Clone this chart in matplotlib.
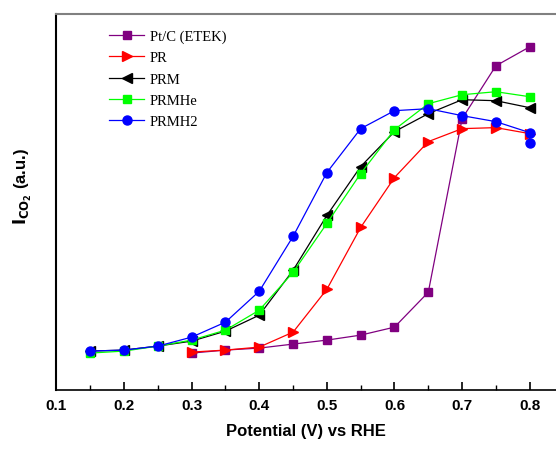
import matplotlib
matplotlib.use("Agg")
import matplotlib.pyplot as plt
from matplotlib.ticker import MultipleLocator, NullLocator

potential = [0.15, 0.2, 0.25, 0.3, 0.35, 0.4, 0.45, 0.5, 0.55, 0.6, 0.65, 0.7, 0.75, 0.8]
potential_pt = [0.3, 0.35, 0.4, 0.45, 0.5, 0.55, 0.6, 0.65, 0.7, 0.75, 0.8]
potential_h2 = potential + [0.8]

pt_c = [0.37, 0.40, 0.42, 0.46, 0.50, 0.55, 0.63, 0.98, 2.72, 3.25, 3.44]
pr = [0.38, 0.40, 0.43, 0.58, 1.01, 1.63, 2.13, 2.49, 2.62, 2.63, 2.57]
prm = [0.39, 0.40, 0.44, 0.49, 0.59, 0.75, 1.20, 1.75, 2.24, 2.59, 2.77, 2.91, 2.90, 2.83]
prmhe = [0.37, 0.39, 0.44, 0.50, 0.60, 0.80, 1.18, 1.67, 2.17, 2.61, 2.87, 2.96, 2.99, 2.94]
prmh2 = [0.39, 0.40, 0.44, 0.53, 0.68, 0.99, 1.54, 2.18, 2.62, 2.80, 2.82, 2.75, 2.69, 2.58, 2.48]

labels = ["Pt/C (ETEK)", "PR", "PRM", "PRMHe", "PRMH2"]

fig = plt.figure(figsize=(5.56, 4.52), dpi=100)
ax = fig.add_axes([0.1016, 0.135, 0.8984, 0.832])

ms = 5.8
lw = 0.9
ax.plot(potential_pt, pt_c, color="#800080", marker="s", ms=ms, lw=lw, label=labels[0])
ax.plot(potential_pt, pr, color="#ff0000", marker=">", ms=ms + 1, lw=lw, label=labels[1])
ax.plot(potential, prm, color="#000000", marker="<", ms=ms + 1, lw=lw, label=labels[2])
ax.plot(potential, prmhe, color="#00ff00", marker="s", ms=ms, lw=lw, label=labels[3])
ax.plot(potential_h2, prmh2, color="#0000ff", marker="o", ms=ms + 0.7, lw=lw, label=labels[4])

ax.set_xlim(0.1, 0.1 + (556 - 56.5) / 676.0)
ax.set_ylim(0, 3.77)
ax.xaxis.set_major_locator(MultipleLocator(0.1))
ax.xaxis.set_minor_locator(MultipleLocator(0.05))
ax.yaxis.set_major_locator(NullLocator())
ax.tick_params(axis="x", which="major", direction="in", length=6, width=1.2, labelsize=11, pad=6)
ax.tick_params(axis="x", which="minor", direction="in", length=3.5, width=1.0)
for lab in ax.get_xticklabels():
    lab.set_fontweight("bold")
    lab.set_fontfamily("Liberation Sans")

ax.spines["right"].set_visible(False)
ax.spines["top"].set_color("#808080")
ax.spines["top"].set_linewidth(1.5)
ax.spines["left"].set_linewidth(1.5)
ax.spines["bottom"].set_linewidth(1.2)

ax.set_xlabel("Potential (V) vs RHE", fontsize=12, fontweight="bold", family="Liberation Sans", labelpad=8)
ax.set_ylabel(r"$\mathbf{I_{CO_2}}$ (a.u.)", fontsize=12, fontweight="bold", family="Liberation Sans")
ax.yaxis.set_label_coords(-0.045, 0.543)

leg = ax.legend(loc="upper left", bbox_to_anchor=(0.186, 0.945), bbox_transform=fig.transFigure,
                frameon=False, prop={"family": "Liberation Serif", "size": 10.5},
                handlelength=2.4, handletextpad=0.4, labelspacing=0.55, borderaxespad=0)

fig.savefig("out.png", dpi=100)
